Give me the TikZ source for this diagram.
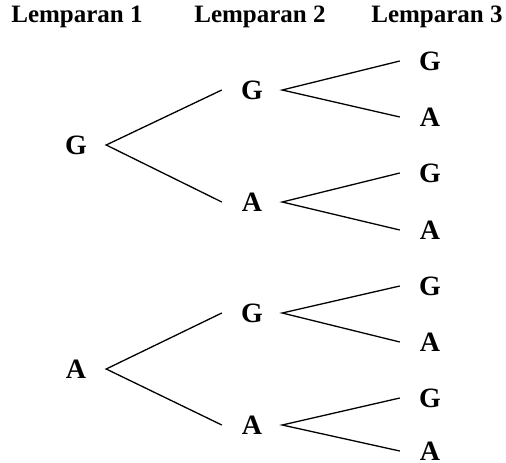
\documentclass[tikz,border=0pt]{standalone}
\usepackage{fontspec}
\setmainfont{Liberation Serif}
\usepackage{tikz}
\usetikzlibrary{positioning}

\begin{document}
\begin{tikzpicture}[
    x=1pt, y=-1pt,
    header/.style={font=\fontsize{25}{30}\selectfont\bfseries, inner sep=0pt},
    outcome/.style={font=\fontsize{28}{32}\selectfont\bfseries, minimum width=60pt, inner xsep=0pt, inner ysep=0pt},
    branch/.style={line width=1.3pt}
]
\useasboundingbox (0,0) rectangle (506,463);

% Headers
\node[header] (h1) at (77,17) {Lemparan 1};
\node[header] (h2) at (260,17) {Lemparan 2};
\node[header] (h3) at (437,17) {Lemparan 3};

% Lemparan 1
\node[outcome] (g) at (76,145) {G};
\node[outcome] (a) at (76,369) {A};

% Lemparan 2
\node[outcome] (gg) at (252,90) {G};
\node[outcome] (ga) at (252,202) {A};
\node[outcome] (ag) at (252,313) {G};
\node[outcome] (aa) at (252,425) {A};

% Lemparan 3
\node[outcome] (ggg) at (430,61) {G};
\node[outcome] (gga) at (430,117) {A};
\node[outcome] (gag) at (430,173) {G};
\node[outcome] (gaa) at (430,230) {A};
\node[outcome] (agg) at (430,286) {G};
\node[outcome] (aga) at (430,342) {A};
\node[outcome] (aag) at (430,398) {G};
\node[outcome] (aaa) at (430,451) {A};

% Branches
\draw[branch] (gg.west) -- (g.east) -- (ga.west);
\draw[branch] (ag.west) -- (a.east) -- (aa.west);

\draw[branch] (ggg.west) -- (gg.east) -- (gga.west);
\draw[branch] (gag.west) -- (ga.east) -- (gaa.west);
\draw[branch] (agg.west) -- (ag.east) -- (aga.west);
\draw[branch] (aag.west) -- (aa.east) -- (aaa.west);

\end{tikzpicture}
\end{document}
